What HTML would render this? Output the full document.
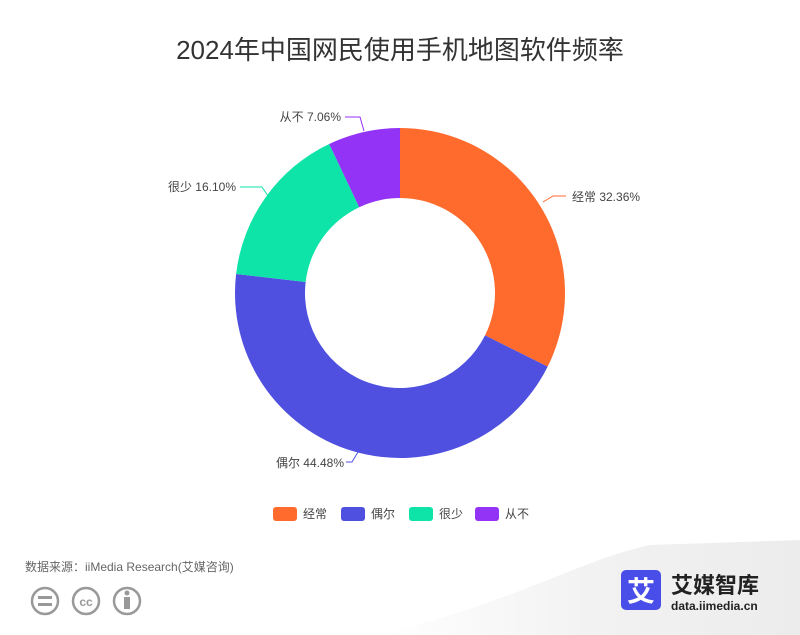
<!DOCTYPE html>
<html><head><meta charset="utf-8"><style>
body{margin:0;width:800px;height:635px;overflow:hidden;background:#fff;font-family:"Liberation Sans","Noto Sans CJK SC",sans-serif;}
</style></head><body>
<svg width="800" height="635" xmlns="http://www.w3.org/2000/svg" style="position:absolute;left:0;top:0">
<defs><linearGradient id="g" x1="0" y1="0" x2="1" y2="0"><stop offset="0" stop-color="#fff"/><stop offset="0.5" stop-color="#f2f2f2"/><stop offset="1" stop-color="#ececec"/></linearGradient></defs>
<path d="M380,635 C520,600 580,560 650,545 L800,540 L800,635 Z" fill="url(#g)"/>
<text x="400" y="59" text-anchor="middle" font-size="26" fill="#333">2024年中国网民使用手机地图软件频率</text>
<g id="pie"></g>
<g fill="none" stroke-width="1">
<polyline points="543,202 553,196 566,196" stroke="#FF6B2C"/>
<polyline points="358,452 352,462 346,462" stroke="#5050E0"/>
<polyline points="268,196 262,187 240,187" stroke="#0EE3A8"/>
<polyline points="364,131 360,117 345,117" stroke="#9233F5"/>
</g>
<g font-size="12" fill="#444">
<text x="572" y="201">经常 32.36%</text>
<text x="344" y="467" text-anchor="end">偶尔 44.48%</text>
<text x="236" y="191" text-anchor="end">很少 16.10%</text>
<text x="341" y="121" text-anchor="end">从不 7.06%</text>
</g>
<g font-size="12" fill="#444">
<rect x="273" y="507" width="24" height="14" rx="3" fill="#FF6B2C"/><text x="303" y="518">经常</text>
<rect x="341" y="507" width="24" height="14" rx="3" fill="#5050E0"/><text x="371" y="518">偶尔</text>
<rect x="409" y="507" width="24" height="14" rx="3" fill="#0EE3A8"/><text x="439" y="518">很少</text>
<rect x="475" y="507" width="24" height="14" rx="3" fill="#9233F5"/><text x="505" y="518">从不</text>
</g>
<text x="25" y="571" font-size="12" fill="#666">数据来源：iiMedia Research(艾媒咨询)</text>
<g fill="none" stroke="#999" stroke-width="2.5">
<circle cx="45" cy="601" r="13"/><circle cx="86" cy="601" r="13"/><circle cx="127" cy="601" r="13"/>
</g>
<g fill="#999"><rect x="38" y="596" width="14" height="3"/><rect x="38" y="603" width="14" height="3"/>
<circle cx="127" cy="593" r="2.5"/><rect x="124" y="597" width="6" height="12"/></g>
<text x="86" y="606" font-size="12" font-weight="bold" fill="#999" text-anchor="middle">cc</text>
<rect x="621" y="570" width="40" height="40" rx="5" fill="#4a4ee8"/>
<text x="641" y="601" font-size="28" font-weight="bold" fill="#fff" text-anchor="middle">艾</text>
<text x="671" y="593" font-size="22" font-weight="bold" fill="#222">艾媒智库</text>
<text x="671" y="610" font-size="12" font-weight="bold" fill="#222">data.iimedia.cn</text>
</svg>
<script>
var d=[[32.36,"#FF6B2C"],[44.48,"#5050E0"],[16.10,"#0EE3A8"],[7.06,"#9233F5"]];
var cx=400,cy=293,R=165,r=95,a=0,s="",tot=100;
function p(rad,ang){return [cx+rad*Math.sin(ang),cy-rad*Math.cos(ang)];}
d.forEach(function(x){var a0=a/tot*2*Math.PI;a+=x[0];var a1=a/tot*2*Math.PI;var l=(a1-a0)>Math.PI?1:0;
var A=p(R,a0),B=p(R,a1),C=p(r,a1),D=p(r,a0);
s+='<path fill="'+x[1]+'" d="M'+A+' A'+R+','+R+' 0 '+l+' 1 '+B+' L'+C+' A'+r+','+r+' 0 '+l+' 0 '+D+' Z"/>';});
document.getElementById("pie").innerHTML=s;
</script>
</body></html>
